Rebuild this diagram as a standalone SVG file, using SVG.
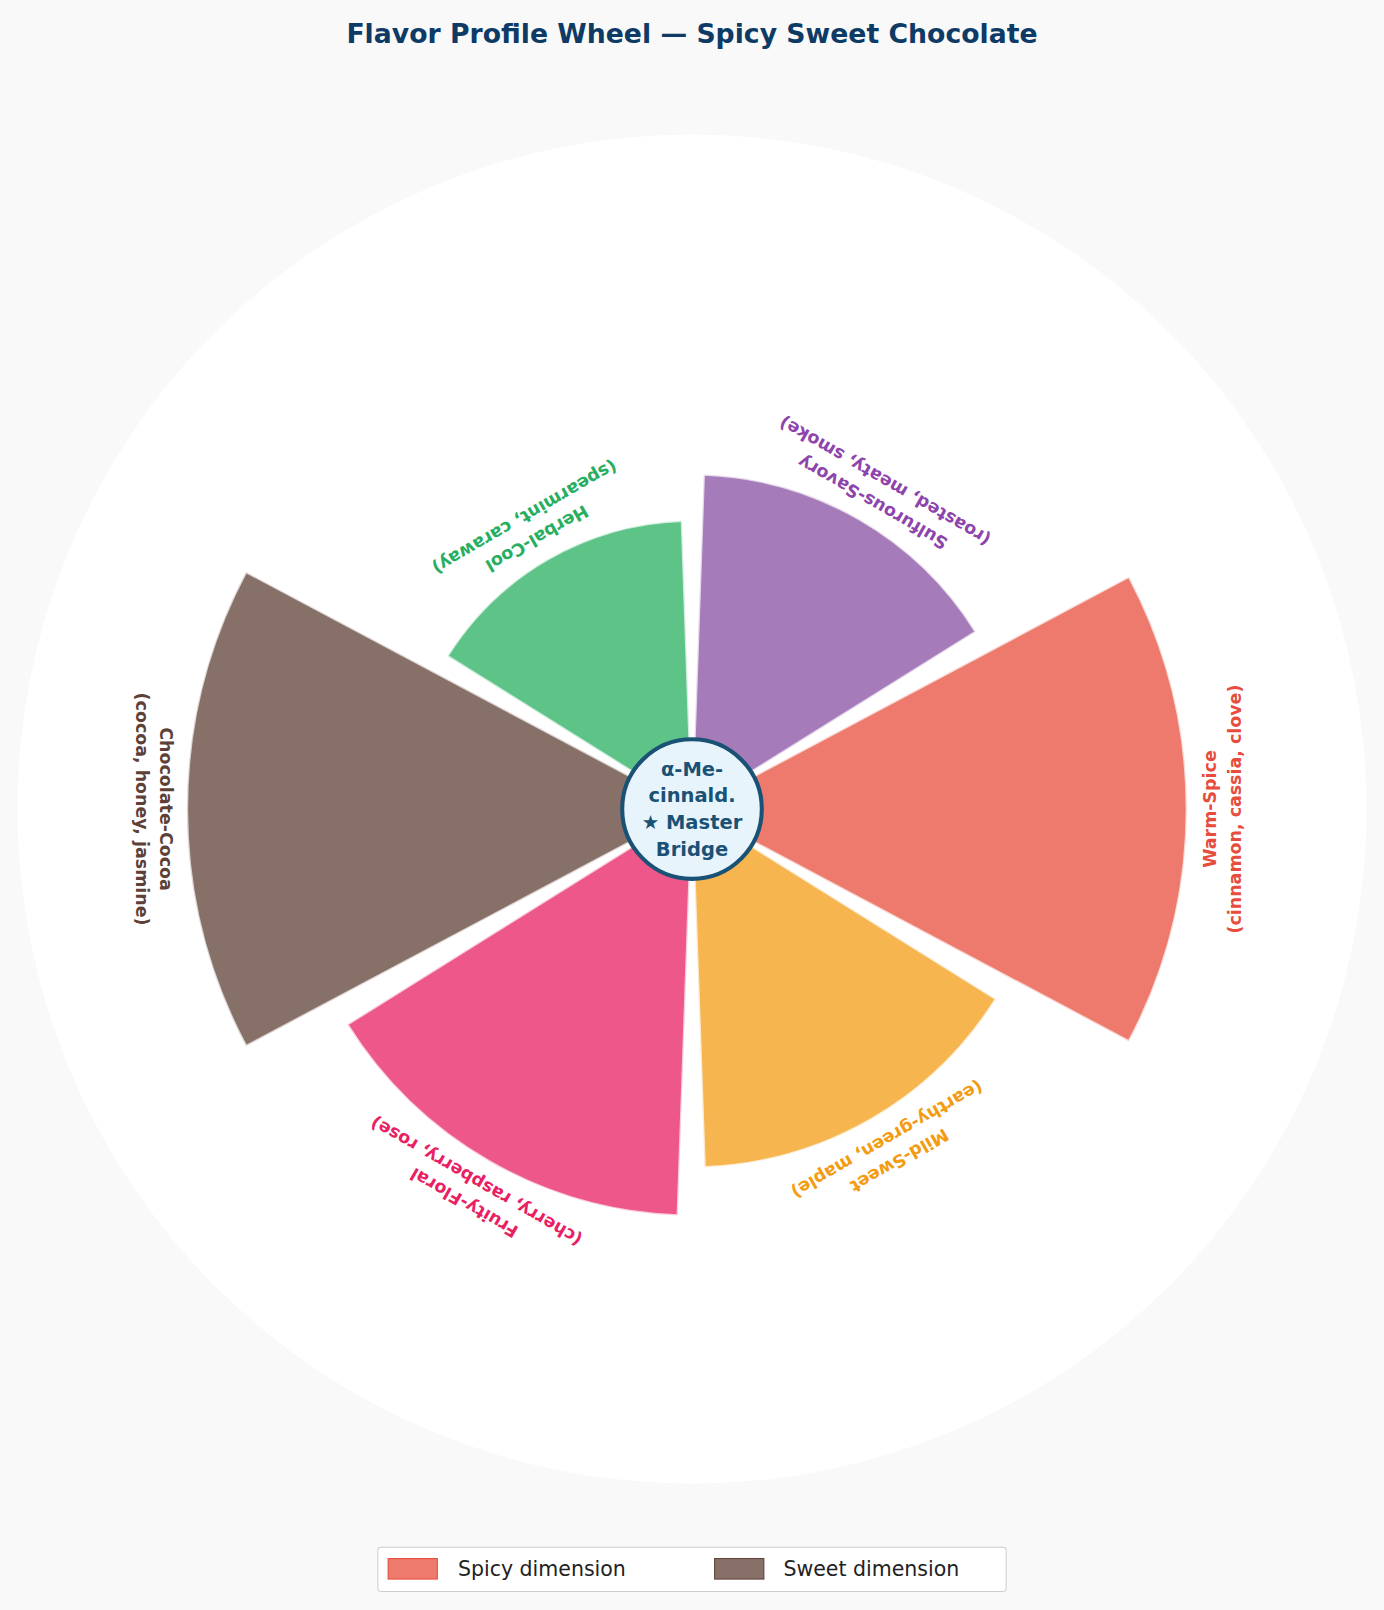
<svg xmlns="http://www.w3.org/2000/svg" width="1384" height="1610" viewBox="0 0 1384 1610">
<style>
.w{stroke:#ffffff;stroke-opacity:0.7;stroke-width:2.5}
.lb{font-family:"DejaVu Sans",sans-serif;font-weight:bold;font-size:17px;text-anchor:middle;dominant-baseline:central}
.ct{font-family:"DejaVu Sans",sans-serif;font-weight:bold;font-size:19px;fill:#1a5276;text-anchor:middle;dominant-baseline:central}
.lg{font-family:"DejaVu Sans",sans-serif;font-size:20px;fill:#222;dominant-baseline:central}
</style>
<rect width="1384" height="1610" fill="#f9f9f9"/>
<g transform="scale(1.02671)">
<circle cx="674" cy="788" r="657" fill="#ffffff"/>
<text x="674" y="33" font-family="DejaVu Sans,sans-serif" font-weight="bold" font-size="26" fill="#0e3a66" text-anchor="middle" dominant-baseline="central">Flavor Profile Wheel — Spicy Sweet Chocolate</text>
<g id="warm-spice">
<path class="w" fill="#ed7a6d" d="M674 788 L1099.6 561.7 A482 482 0 0 1 1099.6 1014.3 Z"/>
<g transform="translate(1191,788) rotate(-90)"><text class="lb" fill="#e74c3c" y="-12">Warm-Spice</text><text class="lb" fill="#e74c3c" y="12">(cinnamon, cassia, clove)</text></g>
</g>
<g id="sulfurous-savory">
<path class="w" fill="#a67bb9" d="M674 788 L685.4 462.2 A326 326 0 0 1 950.4 615.3 Z"/>
<g transform="translate(856,479) rotate(210)"><text class="lb" fill="#8e44ad" y="-12">Sulfurous-Savory</text><text class="lb" fill="#8e44ad" y="12">(roasted, meaty, smoke)</text></g>
</g>
<g id="herbal-cool">
<path class="w" fill="#5dc387" d="M674 788 L435.7 639.1 A281 281 0 0 1 664.2 507.2 Z"/>
<g transform="translate(517,514) rotate(150)"><text class="lb" fill="#27ae60" y="-12">Herbal-Cool</text><text class="lb" fill="#27ae60" y="12">(spearmint, caraway)</text></g>
</g>
<g id="chocolate-cocoa">
<path class="w" fill="#877068" d="M674 788 L239.6 1019 A492 492 0 0 1 239.6 557 Z"/>
<g transform="translate(150,788) rotate(90)"><text class="lb" fill="#5d4037" y="-12">Chocolate-Cocoa</text><text class="lb" fill="#5d4037" y="12">(cocoa, honey, jasmine)</text></g>
</g>
<g id="fruity-floral">
<path class="w" fill="#ee5789" d="M674 788 L660.2 1183.8 A396 396 0 0 1 338.2 997.8 Z"/>
<g transform="translate(458,1161) rotate(210)"><text class="lb" fill="#e91e63" y="-12">Fruity-Floral</text><text class="lb" fill="#e91e63" y="12">(cherry, raspberry, rose)</text></g>
</g>
<g id="mild-sweet">
<path class="w" fill="#f6b54e" d="M674 788 L970 972.9 A349 349 0 0 1 686.2 1136.8 Z"/>
<g transform="translate(870,1120) rotate(150)"><text class="lb" fill="#f39c12" y="-12">Mild-Sweet</text><text class="lb" fill="#f39c12" y="12">(earthy-green, maple)</text></g>
</g>
<g id="center">
<circle cx="674" cy="788" r="68" fill="#e8f4fb" stroke="#1a5276" stroke-width="4"/>
<text class="ct" x="674" y="749">α-Me-</text>
<text class="ct" x="674" y="775">cinnald.</text>
<text class="ct" x="674" y="801">★ Master</text>
<text class="ct" x="674" y="827">Bridge</text>
</g>
<g id="legend">
<rect x="368" y="1507" width="612" height="43" rx="3" fill="#ffffff" stroke="#cccccc"/>
<rect x="378" y="1518" width="48" height="20" fill="#ed7a6d" stroke="#e74c3c"/>
<text class="lg" x="446" y="1528">Spicy dimension</text>
<rect x="696" y="1518" width="48" height="20" fill="#877068" stroke="#5d4037"/>
<text class="lg" x="763" y="1528">Sweet dimension</text>
</g>
</g>
</svg>
